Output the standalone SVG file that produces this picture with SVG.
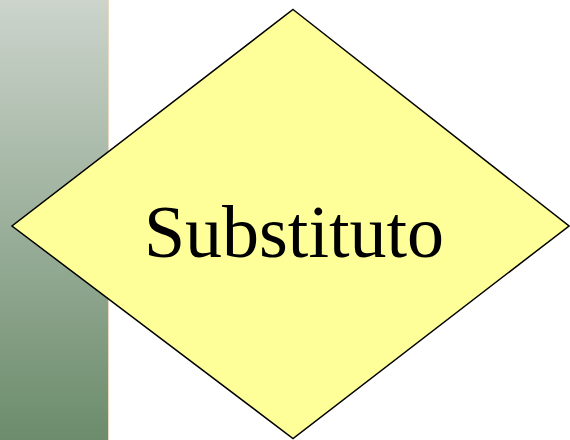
<svg xmlns="http://www.w3.org/2000/svg" width="570" height="440" viewBox="0 0 570 440">
  <defs>
    <linearGradient id="sideBar" x1="0" y1="0" x2="0" y2="1">
      <stop offset="0" stop-color="#ccd4cc"/>
      <stop offset="1" stop-color="#6c8c6c"/>
    </linearGradient>
  </defs>
  <style>
    .decision { fill: #ffff99; stroke: #000000; stroke-width: 1.5; stroke-linejoin: miter; }
    .label { font-family: "Liberation Serif", "Times New Roman", serif; font-size: 74px; fill: #000000; }
  </style>
  <rect width="570" height="440" fill="#ffffff"/>
  <!-- side bar -->
  <rect x="0" y="0" width="108" height="440" fill="url(#sideBar)"/>
  <line x1="108.5" y1="0" x2="108.5" y2="440" stroke="#ead8c0" stroke-width="1"/>
  <g id="connectors"></g>
  <g id="node-substituto">
    <polygon class="decision" points="293,9.5 569,226 293,438.5 12,226"/>
    <text class="label" x="294" y="257" text-anchor="middle">Substituto</text>
  </g>
</svg>
